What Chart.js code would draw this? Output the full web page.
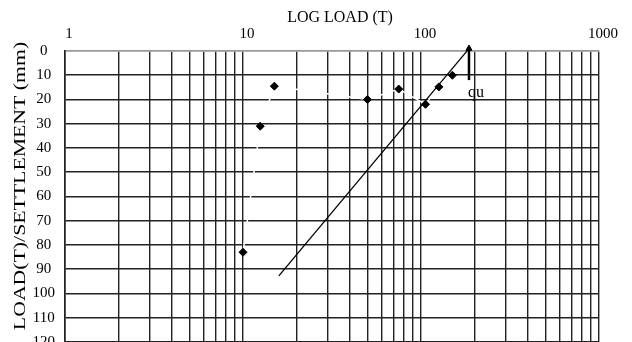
<!DOCTYPE html>
<html>
<head>
<meta charset="utf-8">
<script src="https://cdn.jsdelivr.net/npm/chart.js@4.4.1/dist/chart.umd.min.js"></script>
<style>
  html, body { margin: 0; padding: 0; background: #fff; overflow: hidden; }
  #wrap { width: 632px; height: 342px; overflow: hidden; }
</style>
</head>
<body>
<div id="wrap"><canvas id="pileChart" width="632" height="361"></canvas></div>
<script>
// Datos
const loads = [10, 12.5, 15, 50, 75, 106, 126, 150];
const ratios = [83, 31, 14.5, 20, 15.7, 22, 14.8, 10];

// recta de extrapolación y flecha de qu
const fitLoads = [15.9, 186];
const fitRatios = [92.7, -1];
const quLoads = [186, 186];
const quRatios = [12, -1];
const quLabel = { x: 186, y: 19, text: 'qu' };

// ejes
const xTicks = [1, 2, 3, 4, 5, 6, 7, 8, 9,
                10, 20, 30, 40, 50, 60, 70, 80, 90,
                100, 200, 300, 400, 500, 600, 700, 800, 900, 1000];
const xLabels = ['1', '10', '100', '1000'];
const yMin = 0, yMax = 120, yStep = 10;
const xTitle = 'LOG LOAD (T)';
const yTitle = 'LOAD(T)/SETTLEMENT (mm)';

const serif = "'Liberation Serif', 'Times New Roman', serif";

function toPoints(xs, ys) {
    return xs.map((x, i) => ({ x: x, y: ys[i] }));
}

// textos: qu y títulos de ejes
const textPlugin = {
    id: 'textos',
    afterDatasetsDraw(chart) {
        const ctx = chart.ctx;
        const px = chart.scales.x.getPixelForValue(quLabel.x);
        const py = chart.scales.y.getPixelForValue(quLabel.y);
        ctx.save();
        ctx.fillStyle = '#000';
        ctx.font = '16px ' + serif;
        ctx.textAlign = 'left';
        ctx.textBaseline = 'alphabetic';
        ctx.fillText(quLabel.text, px - 1, py);

        // título superior
        ctx.textAlign = 'center';
        ctx.textBaseline = 'middle';
        ctx.fillText(xTitle, 340, 18);

        // título vertical (algo ensanchado como en el original)
        ctx.translate(21, 186);
        ctx.rotate(-Math.PI / 2);
        ctx.scale(1.28, 1);
        ctx.font = '17px ' + serif;
        ctx.fillText(yTitle, 0, 0);
        ctx.restore();
    }
};

new Chart(document.getElementById('pileChart').getContext('2d'), {
    type: 'scatter',
    data: {
        datasets: [{
            label: 'Ensayo',
            data: toPoints(loads, ratios),
            pointStyle: 'rectRot',
            pointRadius: 4,
            backgroundColor: '#000',
            borderColor: '#000',
            pointBorderWidth: 1,
            showLine: false
        }, {
            label: 'qu',
            data: toPoints(quLoads, quRatios),
            showLine: true,
            borderColor: '#000',
            borderWidth: 2.5,
            pointStyle: 'triangle',
            pointRadius: [0, 3.5],
            pointBorderWidth: 1,
            backgroundColor: '#000',
            clip: false
        }, {
            label: 'Recta',
            data: toPoints(fitLoads, fitRatios),
            showLine: true,
            borderColor: '#000',
            borderWidth: 1.3,
            pointRadius: 0,
            clip: false
        }, {
            label: 'Conexion',
            data: toPoints(loads, ratios),
            showLine: true,
            borderColor: '#fff',
            borderWidth: 1.5,
            pointRadius: 0
        }]
    },
    options: {
        responsive: false,
        devicePixelRatio: 1,
        animation: false,
        layout: { padding: { left: 0, right: 33, top: 0, bottom: 15 } },
        plugins: {
            legend: { display: false },
            tooltip: { enabled: false }
        },
        scales: {
            x: {
                type: 'logarithmic',
                position: 'top',
                min: 1,
                max: 1000,
                afterBuildTicks: function(scale) {
                    scale.ticks = xTicks.map(v => ({ value: v }));
                },
                afterFit: function(scale) { scale.height = 51; },
                grid: { color: '#222', lineWidth: 1.4, drawTicks: false },
                border: { color: '#999', width: 1.4 },
                ticks: {
                    autoSkip: false,
                    maxRotation: 0,
                    padding: 8,
                    labelOffset: 4,
                    color: '#000',
                    font: { family: serif, size: 15 },
                    callback: function(value) {
                        const s = String(value);
                        return xLabels.includes(s) ? s : '';
                    }
                }
            },
            y: {
                type: 'linear',
                reverse: true,
                min: yMin,
                max: yMax,
                afterFit: function(scale) { scale.width = 65; },
                grid: {
                    drawTicks: false,
                    lineWidth: 1.6,
                    color: function(ctx) {
                        return ctx.tick && ctx.tick.value === 0 ? '#999' : '#222';
                    }
                },
                border: { color: '#222', width: 1.6 },
                ticks: {
                    stepSize: yStep,
                    crossAlign: 'center',
                    padding: 10,
                    color: '#000',
                    font: { family: serif, size: 15 }
                }
            }
        }
    },
    plugins: [textPlugin]
});
</script>
</body>
</html>
